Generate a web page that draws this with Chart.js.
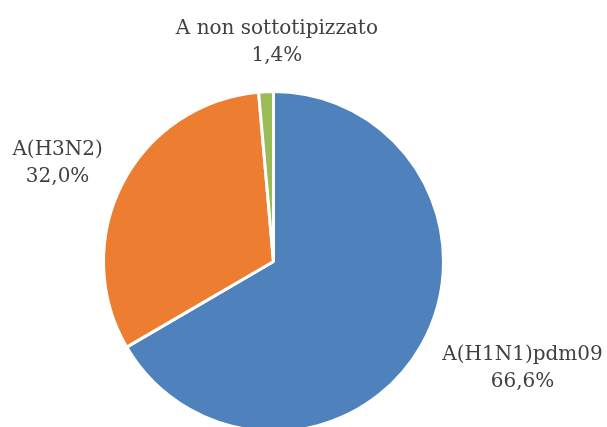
<!DOCTYPE html>
<html><head><meta charset="utf-8">
<script src="https://cdn.jsdelivr.net/npm/chart.js@4/dist/chart.umd.min.js"></script>
<style>
html,body{margin:0;padding:0;background:#fff;overflow:hidden;width:607px;height:427px;}
#wrap{position:relative;width:607px;height:440px;}
</style></head>
<body><div id="wrap"><canvas id="c" width="607" height="440"></canvas></div>
<script>
const categories = ["A(H1N1)pdm09", "A(H3N2)", "A non sottotipizzato"];
const values = [66.6, 32.0, 1.4];
const valueLabels = ["66,6%", "32,0%", "1,4%"];
const colors = ["#4F81BD", "#ED7D31", "#9BBB59"];

// label block centre, as offset from pie centre in units of radius
const labelPos = [[1.465, 0.63], [-1.27, -0.575], [0.02, -1.29]];

const labelPlugin = {
  id: 'outLabels',
  afterDatasetsDraw(chart) {
    const ctx = chart.ctx;
    const meta = chart.getDatasetMeta(0);
    const arc0 = meta.data[0];
    const cx = arc0.x, cy = arc0.y, r = arc0.outerRadius;
    ctx.save();
    ctx.font = '20px "DejaVu Serif"';
    ctx.fillStyle = '#404040';
    ctx.textAlign = 'center';
    ctx.textBaseline = 'middle';
    meta.data.forEach((a, i) => {
      const x = cx + labelPos[i][0] * r;
      const y = cy + labelPos[i][1] * r;
      ctx.fillText(categories[i], x, y - 13.5);
      ctx.fillText(valueLabels[i], x, y + 13.5);
    });
    ctx.restore();
  }
};

new Chart(document.getElementById('c'), {
  type: 'pie',
  data: {
    labels: categories,
    datasets: [{
      data: values,
      backgroundColor: colors,
      borderColor: '#ffffff',
      borderWidth: 3
    }]
  },
  options: {
    responsive: false,
    animation: false,
    layout: { padding: { left: 102, right: 162, top: 90, bottom: 7 } },
    plugins: { legend: { display: false }, tooltip: { enabled: false } }
  },
  plugins: [labelPlugin]
});
</script></body></html>
